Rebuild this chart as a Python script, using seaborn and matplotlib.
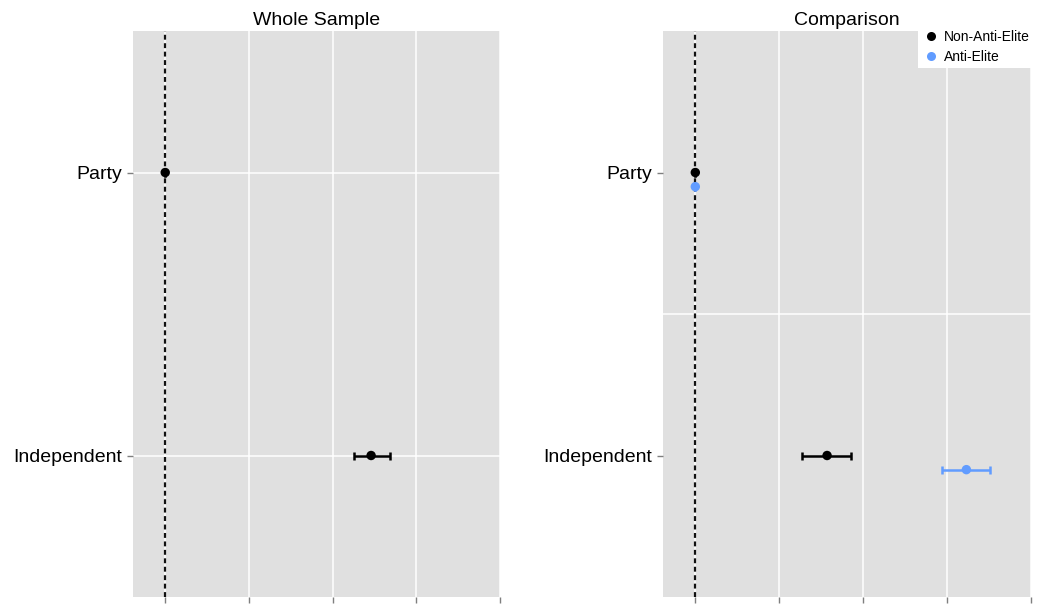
import numpy as np
import pandas as pd
import matplotlib
matplotlib.use("Agg")
import matplotlib.pyplot as plt
import seaborn as sns
from matplotlib.lines import Line2D

# predictors on the y axis (top to bottom)
predictors = ["Party", "Independent"]

# whole sample: estimate and interval
whole_est = [0.0, 2.46]
whole_lo = [0.0, 2.26]
whole_hi = [0.0, 2.68]

# comparison by group
groups = ["Non-Anti-Elite", "Anti-Elite"]
non_est = [0.0, 1.57]
non_lo = [0.0, 1.27]
non_hi = [0.0, 1.86]
anti_est = [0.0, 3.23]
anti_lo = [0.0, 2.94]
anti_hi = [0.0, 3.51]

x_breaks = [0, 1, 2, 3, 4]
colors = {"Non-Anti-Elite": "black", "Anti-Elite": "#619CFF"}

sns.set_theme(style="darkgrid", rc={
    "axes.facecolor": "#E0E0E0",
    "grid.color": "white",
    "grid.linewidth": 1.1,
    "xtick.color": "#7F7F7F",
    "ytick.color": "#7F7F7F",
    "text.color": "black",
})
plt.rcParams["font.family"] = ["Liberation Sans", "DejaVu Sans"]

fig = plt.figure(figsize=(10.42, 6.05), dpi=100)
W, H = 1042.0, 605.0
ax1 = fig.add_axes([133 / W, (H - 597) / H, 367 / W, 566 / H])
ax2 = fig.add_axes([663 / W, (H - 597) / H, 368 / W, 566 / H])

whole = pd.DataFrame({"predictor": predictors, "est": whole_est,
                      "lo": whole_lo, "hi": whole_hi})
whole["pos"] = np.arange(len(predictors))

comp = pd.concat([
    pd.DataFrame({"predictor": predictors, "est": non_est, "lo": non_lo,
                  "hi": non_hi, "group": groups[0]}),
    pd.DataFrame({"predictor": predictors, "est": anti_est, "lo": anti_lo,
                  "hi": anti_hi, "group": groups[1]}),
], ignore_index=True)
comp["pos"] = comp["predictor"].map({p: i for i, p in enumerate(predictors)})
comp.loc[comp["group"] == groups[1], "pos"] += 0.05


def style_axis(ax, title):
    ax.axvline(0, color="#111111", ls=(0, (2.2, 1.6)), lw=1.6, zorder=1)
    ax.set_xlim(-0.385, 4.0)
    ax.set_ylim(1.5, -0.5)
    ax.set_xticks(x_breaks)
    ax.set_xticklabels([""] * len(x_breaks))
    ax.set_yticks(range(len(predictors)))
    ax.set_yticklabels(predictors, fontsize=14, color="black")
    ax.tick_params(axis="both", length=4.5, width=1, pad=3.5, bottom=True, left=True)
    ax.set_xlabel("")
    ax.set_ylabel("")
    ax.set_title(title, fontsize=14, pad=4.5, color="black")
    for s in ax.spines.values():
        s.set_visible(False)


# left panel
style_axis(ax1, "Whole Sample")
ax1.errorbar(whole["est"], whole["pos"],
             xerr=[whole["est"] - whole["lo"], whole["hi"] - whole["est"]],
             fmt="none", ecolor="black", elinewidth=1.8, capsize=2.6,
             capthick=1.8, zorder=2)
sns.scatterplot(data=whole, x="est", y="pos", color="black", s=46,
                edgecolor="none", ax=ax1, zorder=3)
ax1.set_xlabel("")
ax1.set_ylabel("")

# right panel
style_axis(ax2, "Comparison")
ax2.grid(False, axis="y")
ax2.axhline(0.5, color="white", lw=1.1, zorder=0.5)
for g in groups:
    d = comp[comp["group"] == g]
    ax2.errorbar(d["est"], d["pos"],
                 xerr=[d["est"] - d["lo"], d["hi"] - d["est"]],
                 fmt="none", ecolor=colors[g], elinewidth=1.8, capsize=2.6,
                 capthick=1.8, zorder=2)
sns.scatterplot(data=comp, x="est", y="pos", hue="group", palette=colors,
                s=46, edgecolor="none", legend=False, ax=ax2, zorder=3)
ax2.set_xlabel("")
ax2.set_ylabel("")

handles = [Line2D([], [], marker="o", ls="none", color=colors[g],
                  markersize=6.5, markeredgewidth=0) for g in groups]
leg = fig.legend(handles, groups, loc="upper left",
                 bbox_to_anchor=(918 / W, 1 - 26 / H), fontsize=10,
                 frameon=True, facecolor="white", edgecolor="none",
                 framealpha=1, fancybox=False, borderpad=0.3,
                 handletextpad=0.35, handlelength=1.2, labelspacing=0.4,
                 borderaxespad=0)

fig.savefig("out.png", dpi=100)
